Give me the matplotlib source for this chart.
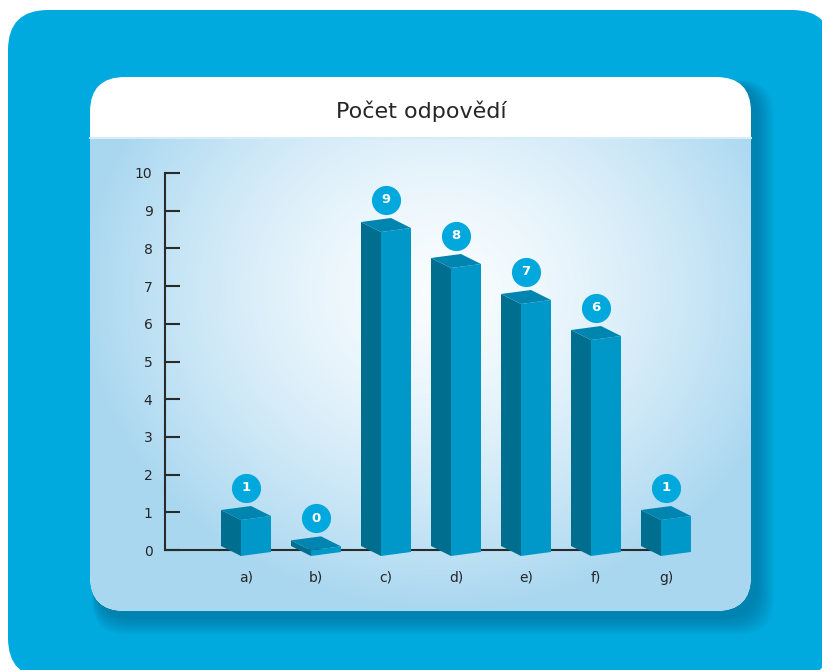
import numpy as np
import matplotlib
matplotlib.use("Agg")
import matplotlib.pyplot as plt
from matplotlib.patches import FancyBboxPatch, Polygon

plt.rcParams['font.family'] = ['DejaVu Sans']

# data
categories = ['a)', 'b)', 'c)', 'd)', 'e)', 'f)', 'g)']
counts = [1, 0, 9, 8, 7, 6, 1]
title = 'Počet odpovědí'

# colours
outer_blue = '#00aade'
edge_blue = np.array([169, 215, 240]) / 255.0
side_col = '#006e8f'
front_col = '#0098c8'
top_col = '#0085b0'
badge_col = '#00a8dd'
text_col = '#262626'

W, H = 822, 670
fig = plt.figure(figsize=(W / 100, H / 100), dpi=100)
fig.patch.set_facecolor('white')

# background layer in pixel coordinates
bg = fig.add_axes([0, 0, 1, 1])
bg.set_xlim(0, W)
bg.set_ylim(H, 0)
bg.axis('off')

bg.add_patch(FancyBboxPatch((8, 10), 824, 668, boxstyle='round,pad=0,rounding_size=40',
                            fc=outer_blue, ec='none'))

# soft shadow of the card
for k in range(14):
    bg.add_patch(FancyBboxPatch((96 - k * 0.3, 84 - k * 0.3), 661 + k * 1.6, 534 + k * 1.6,
                                boxstyle='round,pad=0,rounding_size=35',
                                fc='#005a80', ec='none', alpha=0.04))

card = FancyBboxPatch((90, 77), 661, 534, boxstyle='round,pad=0,rounding_size=35',
                      fc='white', ec='none')
bg.add_patch(card)

# radial gradient of the plot area
gx = np.arange(90, 751)
gy = np.arange(137, 611)
X, Y = np.meshgrid(gx, gy)
r = np.sqrt(((X - 440) / 360.0) ** 2 + ((Y - 290) / 320.0) ** 2)
t = np.clip(r, 0, 1) ** 1.5
img = (1 - t)[..., None] * np.array([0.975, 0.99, 1.0]) + t[..., None] * edge_blue
im = bg.imshow(img, extent=(90, 751, 611, 137), origin='upper', aspect='auto', zorder=2)
im.set_clip_path(card)
bg.plot([90, 751], [137.5, 137.5], color='#d6edf8', lw=1.5, zorder=3)

bg.text(421, 111, title, ha='center', va='center', fontsize=16, color=text_col, zorder=4)

# chart axes: y=0 at px 550, 37.7 px per unit; categories 70 px apart starting at px 246
ax = fig.add_axes([165 / W, (H - 600) / H, (740 - 165) / W, 440 / H])
ax.set_facecolor('none')
ax.set_xlim((165 - 246) / 70, (740 - 246) / 70)
ax.set_ylim((550 - 600) / 37.7, (550 - 160) / 37.7)

for s in ['top', 'right']:
    ax.spines[s].set_visible(False)
ax.spines['left'].set_bounds(0, 10)
ax.spines['bottom'].set_position(('data', 0))
ax.spines['bottom'].set_bounds((165 - 246) / 70, len(counts) - 1)
for s in ['left', 'bottom']:
    ax.spines[s].set_linewidth(1.5)
    ax.spines[s].set_color('#2a2a2a')

ax.set_yticks(range(0, 11))
ax.tick_params(axis='y', direction='in', length=11, width=1.5, color='#2a2a2a',
               pad=9, labelsize=10, labelcolor=text_col)
ax.set_xticks(range(len(categories)))
ax.set_xticklabels(categories)
ax.tick_params(axis='x', length=0, pad=15, labelsize=10, labelcolor=text_col)

# pseudo-3D boxes
dxl, dyl = -20 / 70, 10 / 37.7
dxr, dyr = 30 / 70, 4 / 37.7
for i, v in enumerate(counts):
    xc = i - 5 / 70
    yb = -6 / 37.7
    yt = yb + max(v * 36 / 37.7, 0.15)
    left = [(xc, yb), (xc, yt), (xc + dxl, yt + dyl), (xc + dxl, yb + dyl)]
    right = [(xc, yb), (xc, yt), (xc + dxr, yt + dyr), (xc + dxr, yb + dyr)]
    top = [(xc, yt), (xc + dxl, yt + dyl), (xc + dxl + dxr, yt + dyl + dyr), (xc + dxr, yt + dyr)]
    ax.add_patch(Polygon(left, closed=True, fc=side_col, ec='none', zorder=3))
    ax.add_patch(Polygon(right, closed=True, fc=front_col, ec='none', zorder=3))
    ax.add_patch(Polygon(top, closed=True, fc=top_col, ec='none', zorder=3))
    by = yt + dyl + dyr + 0.48
    ax.scatter([i], [by], s=440, color=badge_col, zorder=4, linewidths=0)
    ax.text(i, by, str(v), ha='center', va='center', color='white', fontsize=9.5,
            fontweight='bold', zorder=5)

fig.savefig('out.png', dpi=100)
